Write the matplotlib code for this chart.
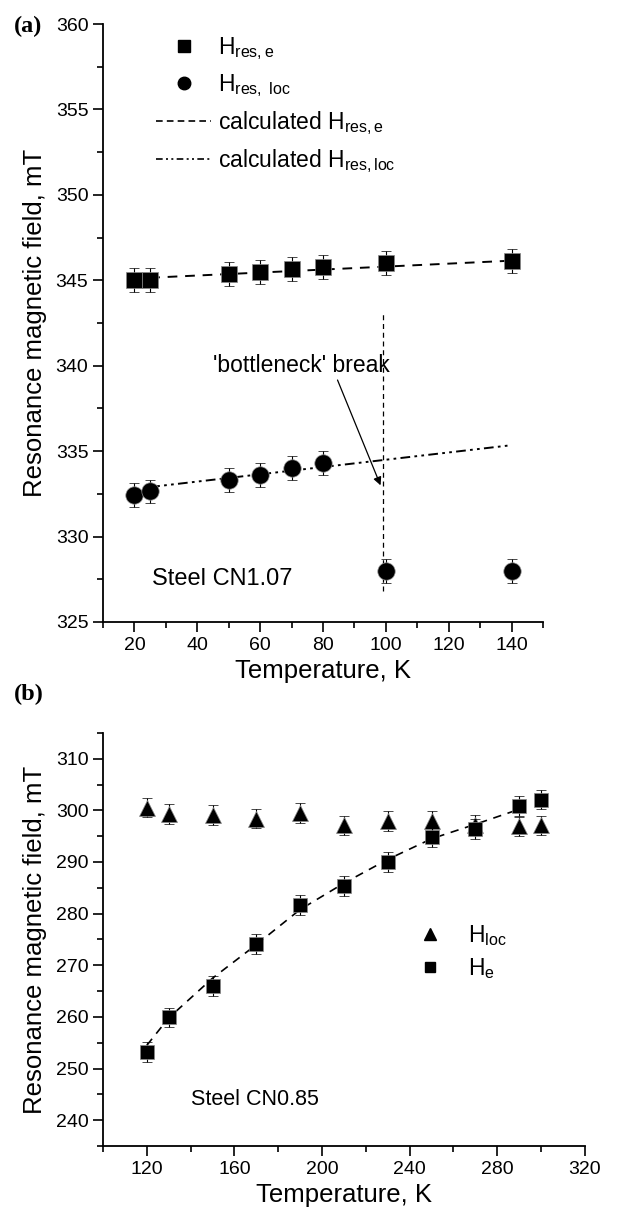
import matplotlib
matplotlib.use("Agg")
import matplotlib.pyplot as plt
from matplotlib.lines import Line2D
from matplotlib.ticker import MultipleLocator

plt.rcParams['font.family'] = ['Liberation Sans', 'DejaVu Sans']
plt.rcParams['mathtext.fontset'] = 'custom'
plt.rcParams['mathtext.rm'] = 'Liberation Sans'
plt.rcParams['mathtext.it'] = 'Liberation Sans:italic'

# ---------------- panel (a) data ----------------
T_a = [20, 25, 50, 60, 70, 80, 100, 140]
H_res_e = [345.0, 345.0, 345.35, 345.47, 345.66, 345.78, 346.0, 346.13]
H_res_e_err = [0.7, 0.7, 0.7, 0.7, 0.7, 0.7, 0.7, 0.7]
H_res_loc = [332.44, 332.64, 333.32, 333.61, 334.04, 334.33, 328.0, 328.0]
H_res_loc_err = [0.7, 0.7, 0.7, 0.7, 0.7, 0.7, 0.7, 0.7]
calc_e_T = [25, 140]
calc_e_H = [345.15, 346.15]
calc_loc_T = [25, 140]
calc_loc_H = [332.9, 335.35]
break_T = 99
break_H = [326.8, 343.2]

# ---------------- panel (b) data ----------------
T_b = [120, 130, 150, 170, 190, 210, 230, 250, 270, 290, 300]
H_loc = [300.55, 299.3, 299.1, 298.4, 299.5, 297.1, 297.95, 297.9, 297.2, 296.9, 297.1]
H_loc_err = [1.9] * 11
H_e = [253.2, 259.9, 266.0, 274.1, 281.7, 285.3, 290.0, 294.9, 296.4, 300.9, 302.1]
H_e_err = [1.9] * 11
fit_T = [120, 130, 150, 170, 190, 210, 230, 250, 270, 292]
fit_H = [254.5, 259.8, 267.5, 274.0, 280.8, 285.9, 290.5, 294.5, 297.3, 300.5]

fig = plt.figure(figsize=(6.34, 12.08), dpi=100)

TICK_FS = 14
LABEL_FS = 18.5


def style_axes(ax):
    for s in ('top', 'right'):
        ax.spines[s].set_visible(False)
    for s in ('left', 'bottom'):
        ax.spines[s].set_linewidth(1.3)
    ax.tick_params(which='major', direction='out', length=7, width=1.2, labelsize=TICK_FS)
    ax.tick_params(which='minor', direction='out', length=4.5, width=1.2)


# ================= panel (a) =================
ax1 = fig.add_axes([0.1625, 0.4851, 0.694, 0.495])
style_axes(ax1)
ax1.set_xlim(10, 150)
ax1.set_ylim(325, 360)
ax1.xaxis.set_major_locator(MultipleLocator(20))
ax1.xaxis.set_minor_locator(MultipleLocator(10))
ax1.yaxis.set_major_locator(MultipleLocator(5))
ax1.yaxis.set_minor_locator(MultipleLocator(2.5))

dashdotdot = (0, (5, 2.2, 1.4, 2.2, 1.4, 2.2))
ax1.plot(calc_e_T, calc_e_H, color='black', lw=1.4, ls=(0, (5, 4)), zorder=2)
ax1.plot(calc_loc_T, calc_loc_H, color='black', lw=1.4, ls=dashdotdot, zorder=2)
ax1.plot([break_T, break_T], break_H, color='black', lw=0.9, ls=(0, (4, 3)), zorder=2)

ax1.errorbar(T_a, H_res_e, yerr=H_res_e_err, fmt='s', color='black', ms=11.5,
             mec='#888888', mew=0.5, ecolor='black', elinewidth=0.8, capsize=3.5, capthick=0.8, zorder=3)
ax1.errorbar(T_a, H_res_loc, yerr=H_res_loc_err, fmt='o', color='black', ms=12.5,
             mec='#888888', mew=0.5, ecolor='black', elinewidth=0.8, capsize=3.5, capthick=0.8, zorder=3)

ax1.annotate("'bottleneck' break", xy=(98.3, 333.0), xytext=(73, 340.0),
             ha='center', va='center', fontsize=16.5,
             arrowprops=dict(arrowstyle='-|>', color='black', lw=0.9, mutation_scale=12,
                             shrinkA=0, shrinkB=0,
                             relpos=(0.7, 0.0)))
ax1.text(25.5, 327.5, 'Steel CN1.07', fontsize=17, ha='left', va='center')

ax1.set_xlabel('Temperature, K', fontsize=LABEL_FS, labelpad=4)
ax1.set_ylabel('Resonance magnetic field, mT', fontsize=LABEL_FS, labelpad=6)

handles_a = [
    Line2D([], [], marker='s', color='black', ls='none', ms=8),
    Line2D([], [], marker='o', color='black', ls='none', ms=9),
    Line2D([], [], color='black', lw=1.2, ls=(0, (4, 2.5))),
    Line2D([], [], color='black', lw=1.2, ls=(0, (4, 2, 1.2, 2, 1.2, 2))),
]
labels_a = [r'H$_{\rm res,e}$', r'H$_{\rm res,\ loc}$',
            r'calculated H$_{\rm res,e}$', r'calculated H$_{\rm res,loc}$']
leg1 = ax1.legend(handles_a, labels_a, loc='upper left', bbox_to_anchor=(0.09, 1.005),
                  frameon=False, fontsize=16.5, handlelength=2.4, handletextpad=0.3,
                  labelspacing=0.45, borderaxespad=0.2)

fig.text(14 / 634, 1 - 26 / 1208, '(a)', fontsize=17.5, fontweight='bold',
         family='Liberation Serif', va='center', ha='left')

# ================= panel (b) =================
ax2 = fig.add_axes([0.1625, 0.0513, 0.760, 0.342])
style_axes(ax2)
ax2.set_xlim(100, 320)
ax2.set_ylim(235, 315)
ax2.xaxis.set_major_locator(MultipleLocator(40))
ax2.xaxis.set_minor_locator(MultipleLocator(20))
ax2.yaxis.set_major_locator(MultipleLocator(10))
ax2.yaxis.set_minor_locator(MultipleLocator(5))
ax2.set_yticks([240, 250, 260, 270, 280, 290, 300, 310])

ax2.plot(fit_T, fit_H, color='black', lw=1.2, ls=(0, (5, 4)), zorder=2)
ax2.errorbar(T_b, H_loc, yerr=H_loc_err, fmt='^', color='black', ms=12,
             mec='#888888', mew=0.5, ecolor='black', elinewidth=0.8, capsize=3.5, capthick=0.8, zorder=3)
ax2.errorbar(T_b, H_e, yerr=H_e_err, fmt='s', color='black', ms=10.5,
             mec='#888888', mew=0.5, ecolor='black', elinewidth=0.8, capsize=3.5, capthick=0.8, zorder=4)

ax2.text(140, 244, 'Steel CN0.85', fontsize=15.5, ha='left', va='center')

handles_b = [
    Line2D([], [], marker='^', color='black', ls='none', ms=8),
    Line2D([], [], marker='s', color='black', ls='none', ms=7),
]
labels_b = [r'H$_{\rm loc}$', r'H$_{\rm e}$']
ax2.legend(handles_b, labels_b, loc='center left', bbox_to_anchor=(0.6, 0.47),
           frameon=False, fontsize=16.5, handlelength=1.5, handletextpad=0.9,
           labelspacing=0.35)

ax2.set_xlabel('Temperature, K', fontsize=LABEL_FS, labelpad=4)
ax2.set_ylabel('Resonance magnetic field, mT', fontsize=LABEL_FS, labelpad=6)

fig.text(14 / 634, 1 - 694 / 1208, '(b)', fontsize=17.5, fontweight='bold',
         family='Liberation Serif', va='center', ha='left')

fig.savefig('out.png', dpi=100)
